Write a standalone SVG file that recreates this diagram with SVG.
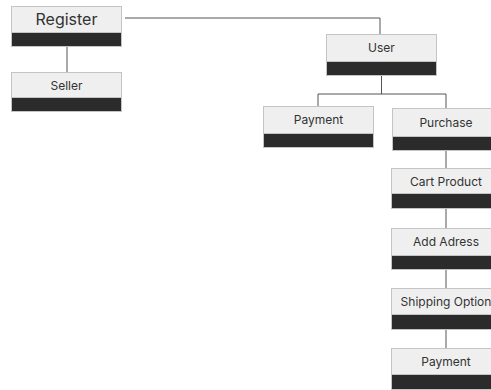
<svg xmlns="http://www.w3.org/2000/svg" width="491" height="390" viewBox="0 0 491 390">
<style>
.hd{fill:#efefef;stroke:#c4c4c4;stroke-width:1}
.bd{fill:#2b2b2b;stroke:#c4c4c4;stroke-width:1}
.t{font-family:Inter,"Noto Sans",sans-serif;font-size:12px;fill:#333;text-anchor:middle}
.tl{font-family:Inter,"Noto Sans",sans-serif;font-size:16px;fill:#333;text-anchor:middle}
.c{fill:none;stroke:#555;stroke-width:1}
</style>
<rect width="491" height="390" fill="#fff"/>
<g id="connectors">
<path class="c" d="M67 47V72"/>
<path class="c" d="M125 18H380V34"/>
<path class="c" d="M381.5 75V94M318 106V94H446V108"/>
<path class="c" d="M446 150V168M446 209V228M446 269V288M446 329V348"/>
</g>
<g id="register">
<rect class="hd" x="11.5" y="6.5" width="110" height="26"/>
<rect class="bd" x="11.5" y="32.5" width="110" height="14"/>
<text class="tl" x="66.5" y="25">Register</text>
</g>
<g id="seller">
<rect class="hd" x="11.5" y="72.5" width="110" height="25"/>
<rect class="bd" x="11.5" y="97.5" width="110" height="14"/>
<text class="t" x="66.5" y="89.5">Seller</text>
</g>
<g id="user">
<rect class="hd" x="326.5" y="34.5" width="110" height="27"/>
<rect class="bd" x="326.5" y="61.5" width="110" height="14"/>
<text class="t" x="381.5" y="52">User</text>
</g>
<g id="payment1">
<rect class="hd" x="263.5" y="106.5" width="110" height="27"/>
<rect class="bd" x="263.5" y="133.5" width="110" height="14"/>
<text class="t" x="318.5" y="124">Payment</text>
</g>
<g id="purchase">
<rect class="hd" x="392.5" y="108.5" width="110" height="28"/>
<rect class="bd" x="392.5" y="136.5" width="110" height="14"/>
<text class="t" x="446" y="127">Purchase</text>
</g>
<g id="cart">
<rect class="hd" x="391.5" y="168.5" width="110" height="25"/>
<rect class="bd" x="391.5" y="193.5" width="110" height="15"/>
<text class="t" x="446" y="186">Cart Product</text>
</g>
<g id="address">
<rect class="hd" x="391.5" y="228.5" width="110" height="27"/>
<rect class="bd" x="391.5" y="255.5" width="110" height="14"/>
<text class="t" x="446" y="246">Add Adress</text>
</g>
<g id="shipping">
<rect class="hd" x="391.5" y="288.5" width="110" height="26"/>
<rect class="bd" x="391.5" y="314.5" width="110" height="15"/>
<text class="t" x="446" y="306">Shipping Option</text>
</g>
<g id="payment2">
<rect class="hd" x="391.5" y="348.5" width="110" height="26"/>
<rect class="bd" x="391.5" y="374.5" width="110" height="15"/>
<text class="t" x="446" y="366">Payment</text>
</g>
</svg>
